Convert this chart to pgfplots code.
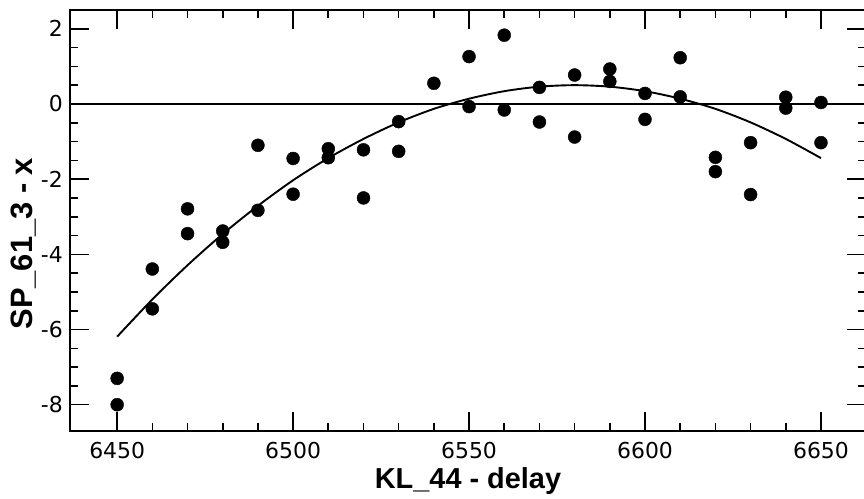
\documentclass[border=0pt]{standalone}
\usepackage{fontspec}
\setmainfont{Liberation Sans}
\newfontfamily\tickfont{DejaVu Sans}
\usepackage{pgfplots}
\pgfplotsset{compat=1.18}

\begin{document}
\begin{tikzpicture}
\begin{axis}[%
at={(0,0)}, anchor=south west,
scale only axis,
width=796bp, height=421bp,
xmin=6436.6, xmax=6662.8,
ymin=-8.7, ymax=2.5,
xtick={6450,6500,...,6650},
ytick={-8,-6,...,2},
minor x tick num=4,
minor y tick num=3,
tick align=inside,
major tick length=19bp,
minor tick length=8bp,
axis line style={line width=2.4bp},
every tick/.style={black, line width=1.6bp},
tick label style={font=\tickfont\fontsize{22}{26}\selectfont, inner sep=0pt},
xticklabel style={anchor=north, yshift=-11bp},
yticklabel style={anchor=east, xshift=-7bp},
/pgf/number format/assume math mode=true,
/pgf/number format/set thousands separator={},
xlabel={KL\_44 - delay},
ylabel={SP\_61\_3 - x},
xlabel style={font=\bfseries\fontsize{29}{34}\selectfont,
  at={(axis description cs:0.5,0)}, anchor=base, yshift=-57bp, inner sep=0pt},
ylabel style={font=\bfseries\fontsize{31}{36}\selectfont,
  at={(axis description cs:-0.0477,0.445)}, anchor=base, inner sep=0pt},
]
% zero line
\addplot [black, line width=1.9bp, forget plot]
coordinates {(6436.6,0) (6662.8,0)};

% fitted curve
\addplot [black, line width=1.9bp, smooth, forget plot]
table[row sep=crcr]{
6450 -6.19\\ 6460 -5.20\\ 6470 -4.29\\ 6480 -3.46\\ 6490 -2.71\\
6500 -2.03\\ 6510 -1.44\\ 6520 -0.93\\ 6530 -0.49\\ 6540 -0.13\\
6550 0.14\\ 6560 0.34\\ 6570 0.46\\ 6580 0.50\\ 6590 0.46\\
6600 0.34\\ 6610 0.14\\ 6620 -0.13\\ 6630 -0.49\\ 6640 -0.93\\
6650 -1.44\\
};

% observations
\addplot [
color=black,
mark size=6.5bp,
only marks,
mark=*,
mark options={solid, fill=black},
forget plot
]
table[row sep=crcr]{
6450 -7.30\\ 6450 -8.00\\
6460 -4.39\\ 6460 -5.45\\
6470 -2.79\\ 6470 -3.45\\
6480 -3.38\\ 6480 -3.68\\
6490 -1.10\\ 6490 -2.83\\
6500 -1.45\\ 6500 -2.40\\
6510 -1.19\\ 6510 -1.43\\
6520 -1.22\\ 6520 -2.50\\
6530 -0.47\\ 6530 -1.26\\
6540 0.55\\
6550 1.26\\ 6550 -0.07\\
6560 1.83\\ 6560 -0.16\\
6570 0.44\\ 6570 -0.48\\
6580 0.77\\ 6580 -0.88\\
6590 0.93\\ 6590 0.60\\
6600 0.28\\ 6600 -0.41\\
6610 1.23\\ 6610 0.19\\
6620 -1.42\\ 6620 -1.80\\
6630 -1.03\\ 6630 -2.41\\
6640 0.18\\ 6640 -0.11\\
6650 0.04\\ 6650 -1.03\\
};
\end{axis}
\pgfresetboundingbox
\path (-70bp,-68bp) rectangle (794bp,431bp);
\end{tikzpicture}
\end{document}
